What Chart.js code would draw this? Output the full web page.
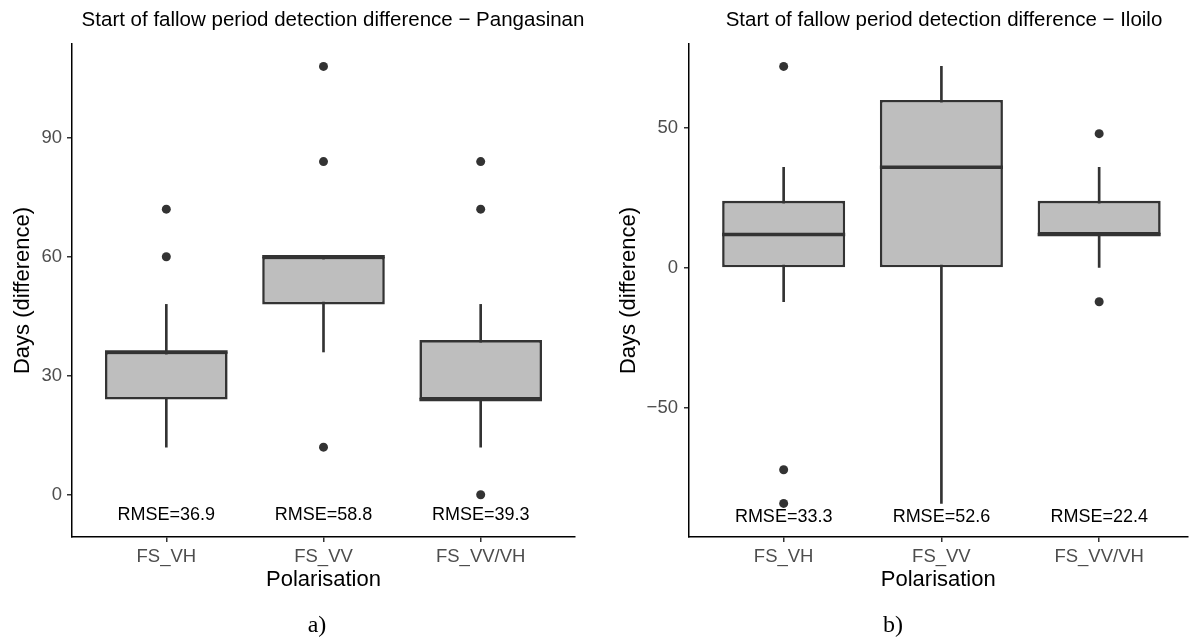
<!DOCTYPE html>
<html>
<head>
<meta charset="utf-8">
<script src="https://cdn.jsdelivr.net/npm/chart.js@4.4.1/dist/chart.umd.min.js"></script>
<style>
  html, body { margin: 0; padding: 0; background: #fff; }
  .row { display: flex; width: 1192px; height: 644px; }
  .panel { position: relative; width: 596px; height: 644px; }
</style>
</head>
<body>
<div class="row">
  <div class="panel"><canvas id="pangasinanChart"></canvas></div>
  <div class="panel"><canvas id="iloiloChart"></canvas></div>
</div>
<script>
const categories = ['FS_VH', 'FS_VV', 'FS_VV/VH'];

// Pangasinan box statistics (days)
const pgLower = [12, 36, 12];
const pgQ1 = [24, 48, 24];
const pgMedian = [36, 60, 24];
const pgQ3 = [36, 60, 39];
const pgUpper = [48, 60, 48];
const pgOutliers = [[60, 72], [12, 84, 108], [0, 72, 84]];
const pgRmse = [36.9, 58.8, 39.3];
const pgTicks = [0, 30, 60, 90];

// Iloilo box statistics (days)
const ilLower = [-12, -84, 0];
const ilQ1 = [0, 0, 12];
const ilMedian = [12, 36, 12];
const ilQ3 = [24, 60, 24];
const ilUpper = [36, 72, 36];
const ilOutliers = [[72, -72, -84], [], [48, -12]];
const ilRmse = [33.3, 52.6, 22.4];
const ilTicks = [-50, 0, 50];

Chart.defaults.font.family = "'Liberation Sans', Arial, sans-serif";
Chart.defaults.color = '#4d4d4d';

// medians, RMSE notes, heading and panel caption
const boxExtras = {
    id: 'boxExtras',
    afterDatasetsDraw(chart, args, opts) {
        const ctx = chart.ctx;
        const xs = chart.scales.x;
        const ys = chart.scales.y;
        const boxes = chart.getDatasetMeta(1).data;
        ctx.save();
        ctx.strokeStyle = '#333333';
        ctx.lineWidth = 3.5;
        boxes.forEach((bar, i) => {
            const p = bar.getProps(['x', 'width'], true);
            const py = ys.getPixelForValue(opts.median[i]);
            ctx.beginPath();
            ctx.moveTo(p.x - p.width / 2, py);
            ctx.lineTo(p.x + p.width / 2, py);
            ctx.stroke();
        });

        ctx.fillStyle = '#000';
        ctx.textAlign = 'center';
        ctx.textBaseline = 'middle';
        ctx.font = "18px 'Liberation Sans', Arial, sans-serif";
        opts.rmse.forEach((v, i) => {
            ctx.fillText('RMSE=' + v.toFixed(1), xs.getPixelForValue(i + 1), ys.getPixelForValue(opts.rmseAt));
        });

        ctx.font = "20.5px 'Liberation Sans', Arial, sans-serif";
        ctx.fillText(opts.heading, opts.headingX, 20);

        ctx.font = "24px 'Liberation Serif', 'Times New Roman', serif";
        ctx.fillText(opts.caption, opts.captionX, 626);
        ctx.restore();
    }
};

function makeBoxChart(canvasId, s) {
    const ctx = document.getElementById(canvasId);
    const whiskers = categories.map((c, i) => ({ x: i + 1, y: [s.lower[i], s.upper[i]] }));
    const boxes = categories.map((c, i) => ({ x: i + 1, y: [s.q1[i], s.q3[i]] }));
    const points = [];
    s.outliers.forEach((list, i) => list.forEach(v => points.push({ x: i + 1, y: v })));

    return new Chart(ctx, {
        type: 'bar',
        data: {
            datasets: [{
                data: whiskers,
                backgroundColor: '#333333',
                barThickness: 2,
                grouped: false,
                order: 3
            }, {
                data: boxes,
                backgroundColor: '#bebebe',
                borderColor: '#333333',
                borderWidth: 2.6,
                borderSkipped: false,
                barPercentage: 0.78,
                categoryPercentage: 1,
                grouped: false,
                order: 2
            }, {
                type: 'scatter',
                data: points,
                backgroundColor: '#333333',
                borderWidth: 0,
                pointRadius: 4.5,
                order: 1
            }]
        },
        options: {
            responsive: true,
            maintainAspectRatio: false,
            animation: false,
            layout: {
                padding: { top: 44, bottom: 47, left: 0, right: s.padRight }
            },
            plugins: {
                legend: { display: false },
                tooltip: { enabled: false },
                boxExtras: {
                    median: s.median,
                    rmse: s.rmse,
                    rmseAt: s.rmseAt,
                    heading: s.heading,
                    headingX: s.headingX,
                    caption: s.caption,
                    captionX: s.captionX
                }
            },
            scales: {
                x: {
                    type: 'linear',
                    offset: false,
                    min: 0.4,
                    max: s.xMax,
                    afterBuildTicks: scale => {
                        scale.ticks = categories.map((c, i) => ({ value: i + 1 }));
                    },
                    afterFit: scale => { scale.height = 60; },
                    ticks: {
                        callback: value => categories[value - 1],
                        font: { size: 18.5 },
                        color: '#4d4d4d',
                        padding: 4
                    },
                    grid: {
                        offset: false,
                        drawOnChartArea: false,
                        drawTicks: true,
                        tickLength: 5,
                        color: '#333333',
                        lineWidth: 1.5
                    },
                    border: { display: true, color: '#000', width: 1.5 },
                    title: {
                        display: true,
                        text: 'Polarisation',
                        color: '#000',
                        font: { size: 22 },
                        padding: { top: 0, bottom: 4 }
                    }
                },
                y: {
                    min: s.yMin,
                    max: s.yMax,
                    afterBuildTicks: scale => {
                        scale.ticks = s.ticks.map(v => ({ value: v }));
                    },
                    afterFit: scale => { scale.width = s.yWidth; },
                    ticks: {
                        callback: value => String(value).replace('-', '\u2212'),
                        font: { size: 18.5 },
                        color: '#4d4d4d',
                        padding: s.yTickPad
                    },
                    grid: {
                        drawOnChartArea: false,
                        drawTicks: true,
                        tickLength: 5,
                        color: '#333333',
                        lineWidth: 1.5
                    },
                    border: { display: true, color: '#000', width: 1.5 },
                    title: {
                        display: true,
                        text: 'Days (difference)',
                        color: '#000',
                        font: { size: 22 },
                        padding: { top: s.yTitlePad, bottom: 0 }
                    }
                }
            }
        },
        plugins: [boxExtras]
    });
}

makeBoxChart('pangasinanChart', {
    lower: pgLower, q1: pgQ1, median: pgMedian, q3: pgQ3, upper: pgUpper,
    outliers: pgOutliers, rmse: pgRmse, rmseAt: -5, ticks: pgTicks,
    yMin: -10.65, yMax: 113.65, xMax: 3.6, padRight: 21,
    yWidth: 72, yTickPad: 5, yTitlePad: 10,
    heading: 'Start of fallow period detection difference \u2212 Pangasinan', headingX: 333,
    caption: 'a)', captionX: 317
});

makeBoxChart('iloiloChart', {
    lower: ilLower, q1: ilQ1, median: ilMedian, q3: ilQ3, upper: ilUpper,
    outliers: ilOutliers, rmse: ilRmse, rmseAt: -89, ticks: ilTicks,
    yMin: -96, yMax: 80, xMax: 3.56, padRight: 0,
    yWidth: 93, yTickPad: 6, yTitlePad: 20,
    heading: 'Start of fallow period detection difference \u2212 Iloilo', headingX: 348,
    caption: 'b)', captionX: 297
});
</script>
</body>
</html>
